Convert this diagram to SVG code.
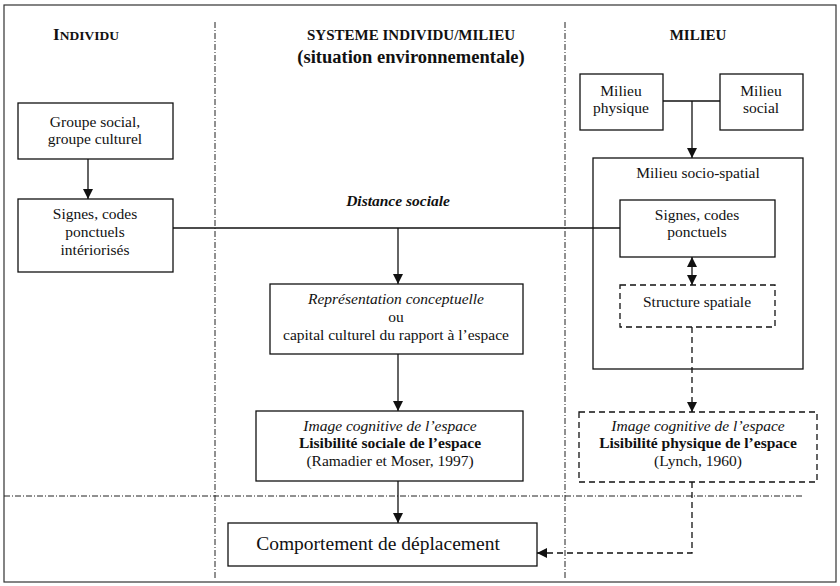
<svg xmlns="http://www.w3.org/2000/svg" width="840" height="586" viewBox="0 0 840 586">
<defs>
<style>
text{font-family:"Liberation Serif","Times New Roman",serif;font-size:15.5px;fill:#111;text-anchor:middle}
.b{font-weight:bold}
.i{font-style:italic}
.box{fill:#fff;stroke:#111;stroke-width:1.3}
.dbox{fill:#fff;stroke:#111;stroke-width:1.3;stroke-dasharray:6 4}
.ln{fill:none;stroke:#111;stroke-width:1.3}
.dl{fill:none;stroke:#111;stroke-width:1.3;stroke-dasharray:6 4}
.div{fill:none;stroke:#222;stroke-width:1;stroke-dasharray:6 2 1 2}
</style>
<marker id="ah" viewBox="0 0 10 10" refX="10" refY="5" markerWidth="10" markerHeight="10" markerUnits="userSpaceOnUse" orient="auto-start-reverse">
<path d="M0,0 L10,5 L0,10 Z" fill="#111"/>
</marker>
</defs>
<rect x="0" y="0" width="840" height="586" fill="#fff"/>
<g id="frame">
<rect x="4" y="5" width="832" height="577" fill="none" stroke="#333" stroke-width="1.2"/>
<line class="div" x1="215" y1="22" x2="215" y2="580"/>
<line class="div" x1="565" y1="22" x2="565" y2="580"/>
<line class="div" x1="4" y1="496" x2="802" y2="496"/>
</g>
<g id="headers">
<text x="86" y="40" class="b" style="font-size:17px">I<tspan style="font-size:13.5px">NDIVIDU</tspan></text>
<text x="411" y="40" class="b" style="font-size:15px">SYSTEME INDIVIDU/MILIEU</text>
<text x="411" y="63" class="b" style="font-size:18.5px">(situation environnementale)</text>
<text x="698" y="40" class="b" style="font-size:15px">MILIEU</text>
</g>
<g id="groupe">
<rect class="box" x="18" y="103" width="155" height="56"/>
<text x="95" y="127">Groupe social,</text>
<text x="95" y="144">groupe culturel</text>
</g>
<g id="signes-int">
<rect class="box" x="18" y="199" width="155" height="73"/>
<text x="95" y="219">Signes, codes</text>
<text x="95" y="237">ponctuels</text>
<text x="95" y="255">intériorisés</text>
</g>
<g id="distance">
<text x="398" y="206" class="b i">Distance sociale</text>
</g>
<g id="representation">
<rect class="box" x="270" y="284" width="253" height="70"/>
<text x="396" y="304" class="i">Représentation conceptuelle</text>
<text x="396" y="322">ou</text>
<text x="396" y="340">capital culturel du rapport à l’espace</text>
</g>
<g id="image-sociale">
<rect class="box" x="256" y="411" width="267" height="70"/>
<text x="390" y="431" class="i">Image cognitive de l’espace</text>
<text x="390" y="448" class="b">Lisibilité sociale de l’espace</text>
<text x="390" y="466">(Ramadier et Moser, 1997)</text>
</g>
<g id="comportement">
<rect class="box" x="228" y="523" width="309" height="43"/>
<text x="378" y="550" style="font-size:19.5px">Comportement de déplacement</text>
</g>
<g id="milieu-physique">
<rect class="box" x="580" y="74" width="83" height="56"/>
<text x="621" y="96">Milieu</text>
<text x="621" y="113">physique</text>
</g>
<g id="milieu-social">
<rect class="box" x="720" y="74" width="83" height="56"/>
<text x="761" y="96">Milieu</text>
<text x="761" y="113">social</text>
</g>
<g id="socio-spatial">
<rect class="box" x="593" y="158" width="210" height="211"/>
<text x="698" y="178">Milieu socio-spatial</text>
</g>
<g id="signes-ponctuels">
<rect class="box" x="620" y="200" width="155" height="57"/>
<text x="697" y="220">Signes, codes</text>
<text x="697" y="237">ponctuels</text>
</g>
<g id="structure">
<rect class="dbox" x="620" y="285" width="155" height="42"/>
<text x="697" y="307">Structure spatiale</text>
</g>
<g id="image-physique">
<rect class="dbox" x="579" y="412" width="238" height="70"/>
<text x="698" y="431" class="i">Image cognitive de l’espace</text>
<text x="698" y="448" class="b">Lisibilité physique de l’espace</text>
<text x="698" y="466">(Lynch, 1960)</text>
</g>
<g id="connectors">
<line class="ln" x1="88" y1="159" x2="88" y2="199" marker-end="url(#ah)"/>
<line class="ln" x1="173" y1="228" x2="620" y2="228"/>
<line class="ln" x1="398" y1="228" x2="398" y2="284" marker-end="url(#ah)"/>
<line class="ln" x1="398" y1="354" x2="398" y2="411" marker-end="url(#ah)"/>
<line class="ln" x1="398" y1="481" x2="398" y2="523" marker-end="url(#ah)"/>
<line class="ln" x1="663" y1="101" x2="720" y2="101"/>
<line class="ln" x1="692" y1="101" x2="692" y2="158" marker-end="url(#ah)"/>
<line class="ln" x1="692" y1="257" x2="692" y2="285" marker-start="url(#ah)" marker-end="url(#ah)"/>
<line class="dl" x1="692" y1="327" x2="692" y2="412" marker-end="url(#ah)"/>
<polyline class="dl" points="692,482 692,553 537,553" marker-end="url(#ah)"/>
</g>
</svg>
